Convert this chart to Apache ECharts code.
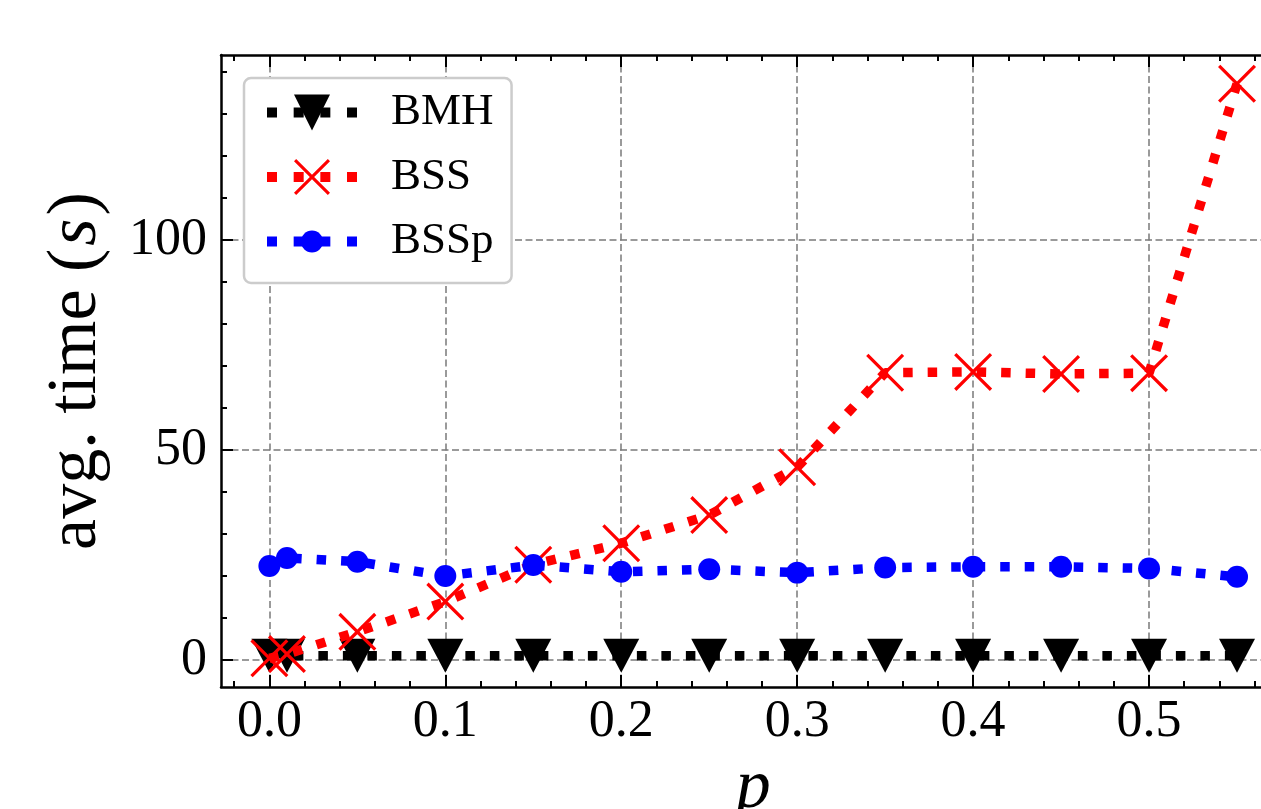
<!DOCTYPE html>
<html><head><meta charset="utf-8">
<script src="https://cdn.jsdelivr.net/npm/echarts@6/dist/echarts.min.js"></script>
<style>html,body{margin:0;padding:0;background:#fff}#c{width:1261px;height:809px}</style>
</head><body><div id="c"></div>
<script>
// ---- data ----
const pValues   = [0.0, 0.01, 0.05, 0.1, 0.15, 0.2, 0.25, 0.3, 0.35, 0.4, 0.45, 0.5, 0.55];
const bmhTimes  = [1.0, 1.0, 1.0, 1.0, 1.0, 1.0, 1.0, 1.0, 1.0, 1.0, 1.0, 1.0, 1.0];
const bssTimes  = [0.41, 1.4, 6.7, 13.9, 22.7, 27.8, 34.5, 45.9, 68.4, 68.6, 68.1, 68.3, 137.2];
const bsspTimes = [22.4, 24.3, 23.4, 20.0, 22.6, 21.0, 21.6, 20.8, 22.0, 22.2, 22.2, 21.8, 19.8];
const seriesNames = ['BMH', 'BSS', 'BSSp'];
const xMajorTicks = [0, 0.1, 0.2, 0.3, 0.4, 0.5];
const xMinorTicks = [-0.02, 0.02, 0.04, 0.06, 0.08, 0.12, 0.14, 0.16, 0.18, 0.22, 0.24, 0.26, 0.28,
                     0.32, 0.34, 0.36, 0.38, 0.42, 0.44, 0.46, 0.48, 0.52, 0.54, 0.56];
const yMajorTicks = [0, 50, 100];
const yMinorTicks = [10, 20, 30, 40, 60, 70, 80, 90, 110, 120, 130, 140];
const xRange = [-0.0275, 0.5775];
const yRange = [-6.43, 144.05];

const FONT = "'Liberation Serif', 'Times New Roman', serif";
const SYM_TRI = 'path://M0,0L100,0L50,100Z';
const SYM_X = 'path://M0,6L6,0L50,44L94,0L100,6L56,50L100,94L94,100L50,56L6,100L0,94L44,50Z';
const SYM_DOT = 'path://M0,0M100,100M19.5,50A30.5,30.5 0 1,1 80.5,50A30.5,30.5 0 1,1 19.5,50Z';

function tickAxis(pos, range, values, len, opts) {
  return Object.assign({
    type: 'value', position: pos, min: range[0], max: range[1],
    axisLine: { show: false, onZero: false },
    axisTick: { show: true, inside: true, length: len, customValues: values,
                lineStyle: { color: '#000', width: 2 } },
    axisLabel: { show: false },
    splitLine: { show: false },
    minorTick: { show: false }, minorSplitLine: { show: false }
  }, opts || {});
}

const gridLine = { show: true, lineStyle: { color: '#7a7a7a', width: 1.5, type: [7, 3.5] } };

const xAxes = [
  tickAxis('bottom', xRange, xMajorTicks, 12, {
    axisLine: { show: true, onZero: false, lineStyle: { color: '#000', width: 2.5 } },
    axisLabel: { show: true, customValues: xMajorTicks, margin: 9, color: '#000',
                 fontFamily: FONT, fontSize: 52, formatter: v => v.toFixed(1) },
    splitLine: gridLine,
    name: 'p', nameLocation: 'middle', nameGap: 67,
    nameTextStyle: { fontFamily: FONT, fontSize: 70, fontStyle: 'italic', color: '#000' }
  }),
  tickAxis('bottom', xRange, xMinorTicks, 6),
  tickAxis('top', xRange, xMajorTicks, 12, {
    axisLine: { show: true, onZero: false, lineStyle: { color: '#000', width: 2.5 } }
  }),
  tickAxis('top', xRange, xMinorTicks, 6)
];
const yAxes = [
  tickAxis('left', yRange, yMajorTicks, 12, {
    axisLine: { show: true, onZero: false, lineStyle: { color: '#000', width: 2.5 } },
    axisLabel: { show: true, customValues: yMajorTicks, margin: 14, color: '#000',
                 fontFamily: FONT, fontSize: 52 },
    splitLine: gridLine,
    name: 'avg. time ({it|s})', nameLocation: 'middle', nameGap: 109,
    nameTextStyle: { fontFamily: FONT, fontSize: 70, color: '#000',
      rich: { it: { fontFamily: FONT, fontSize: 70, fontStyle: 'italic', color: '#000', padding: [0, 3, 0, 3] } } }
  }),
  tickAxis('left', yRange, yMinorTicks, 6)
];

function mkSeries(name, values, color, symbol, size, z) {
  return {
    type: 'line', name: name, z: z,
    data: pValues.map((p, i) => [p, values[i]]),
    xAxisIndex: 0, yAxisIndex: 0,
    symbol: symbol, symbolSize: size, showSymbol: true,
    itemStyle: { color: color, borderWidth: 0 },
    lineStyle: { color: color, width: 9.5, type: [9.5, 15], cap: 'butt' },
    emphasis: { disabled: true },
    clip: false
  };
}

const chart = echarts.init(document.getElementById('c'), null, { renderer: 'canvas' });
chart.setOption({
  animation: false,
  backgroundColor: '#fff',
  grid: { left: 221, top: 55, right: -24.4, bottom: 122, containLabel: false, outerBoundsMode: 'none' },
  xAxis: xAxes,
  yAxis: yAxes,
  legend: {
    orient: 'vertical', left: 244, top: 78,
    data: seriesNames,
    itemWidth: 90, itemHeight: 45, itemGap: 19.5,
    padding: [12, 18, 19, 18],
    backgroundColor: '#fff', borderColor: '#cccccc', borderWidth: 2.5, borderRadius: 7,
    lineStyle: { width: 10, type: [10, 16.67], cap: 'butt' },
    textStyle: { fontFamily: FONT, fontSize: 45, color: '#000', lineHeight: 45, padding: [0, 0, 0, 29] },
    selectedMode: false
  },
  series: [
    mkSeries(seriesNames[0], bmhTimes, '#000000', SYM_TRI, [36, 34], 2),
    mkSeries(seriesNames[1], bssTimes, '#ff0000', SYM_X, 38, 3),
    mkSeries(seriesNames[2], bsspTimes, '#0000ff', SYM_DOT, 36, 4)
  ]
});
</script></body></html>
